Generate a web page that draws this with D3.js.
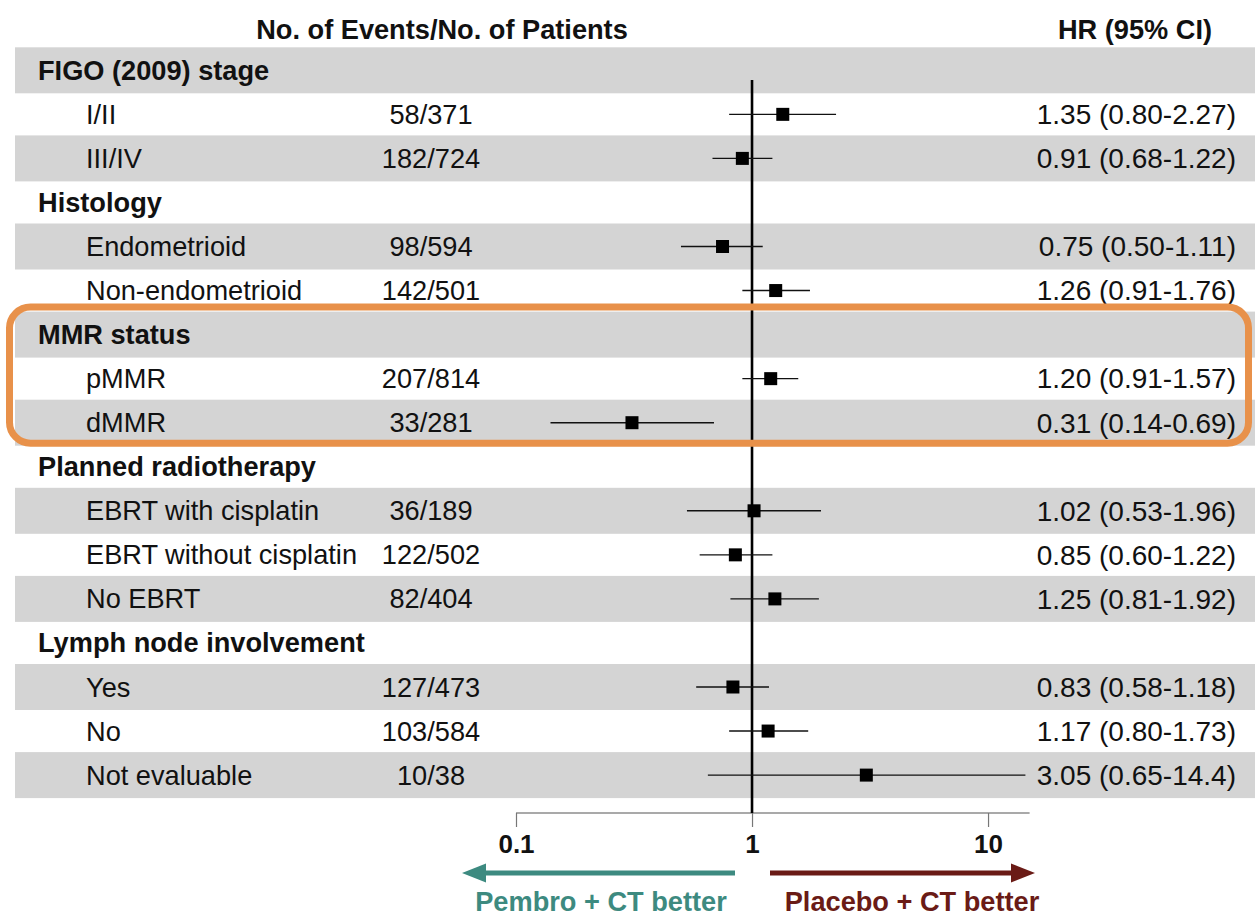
<!DOCTYPE html>
<html>
<head>
<meta charset="utf-8">
<script src="https://cdn.jsdelivr.net/npm/d3@7/dist/d3.min.js"></script>
<style>
  html, body { margin: 0; padding: 0; background: #fff; }
  svg { display: block; font-family: "Liberation Sans", Arial, sans-serif; }
</style>
</head>
<body>
<svg id="chart" width="1255" height="918"></svg>
<script>
// Subgroup rows, top to bottom; header rows carry no estimate.
const rowLabels = [
  "FIGO (2009) stage", "I/II", "III/IV",
  "Histology", "Endometrioid", "Non-endometrioid",
  "MMR status", "pMMR", "dMMR",
  "Planned radiotherapy", "EBRT with cisplatin", "EBRT without cisplatin", "No EBRT",
  "Lymph node involvement", "Yes", "No", "Not evaluable"
];
const isHeader = [1,0,0, 1,0,0, 1,0,0, 1,0,0,0, 1,0,0,0];
const events   = [null,"58/371","182/724", null,"98/594","142/501", null,"207/814","33/281",
                  null,"36/189","122/502","82/404", null,"127/473","103/584","10/38"];
const hr       = [null,1.35,0.91, null,0.75,1.26, null,1.20,0.31, null,1.02,0.85,1.25, null,0.83,1.17,3.05];
const ciLow    = [null,0.80,0.68, null,0.50,0.91, null,0.91,0.14, null,0.53,0.60,0.81, null,0.58,0.80,0.65];
const ciHigh   = [null,2.27,1.22, null,1.11,1.76, null,1.57,0.69, null,1.96,1.22,1.92, null,1.18,1.73,14.4];
const axisTicks = [0.1, 1, 10];
const highlightRows = [6, 8]; // first and last row inside the outlined block

const svg = d3.select("#chart");
const W = 1255;
const rowPitch = 44.05, firstRow = 70.3, bandH = 46;
const y = i => firstRow + i * rowPitch;
const fs = 27.2;

const x = d3.scaleLog().domain([0.1, 15]).range([516, 1029.6]);

const fmt = v => v >= 10 ? v.toFixed(1) : v.toFixed(2);
const ink = "#111";

// alternating row bands
svg.append("g").selectAll("rect")
  .data(rowLabels.map((d, i) => i).filter(i => i % 2 === 0))
  .join("rect")
  .attr("x", 15).attr("width", W - 15)
  .attr("y", i => y(i) - bandH / 2).attr("height", bandH)
  .attr("fill", "#d4d4d4");

// column headers
svg.append("text").attr("x", 442).attr("y", 39).attr("text-anchor", "middle")
  .attr("font-size", fs).attr("font-weight", "bold").attr("fill", ink)
  .text("No. of Events/No. of Patients");
svg.append("text").attr("x", 1135).attr("y", 39).attr("text-anchor", "middle")
  .attr("font-size", fs).attr("font-weight", "bold").attr("fill", ink)
  .text("HR (95% CI)");

// row labels
svg.append("g").selectAll("text")
  .data(rowLabels.map((d, i) => ({ label: d, i })))
  .join("text")
  .attr("x", d => isHeader[d.i] ? 38 : 86)
  .attr("y", d => y(d.i)).attr("dy", "0.35em")
  .attr("font-size", fs)
  .attr("font-weight", d => isHeader[d.i] ? "bold" : "normal")
  .attr("fill", ink)
  .text(d => d.label);

const dataRows = rowLabels.map((d, i) => i).filter(i => !isHeader[i]);

// events / patients
svg.append("g").selectAll("text")
  .data(dataRows).join("text")
  .attr("x", 431).attr("y", i => y(i)).attr("dy", "0.35em")
  .attr("text-anchor", "middle").attr("font-size", fs).attr("fill", ink)
  .text(i => events[i]);

// HR (95% CI) text
svg.append("g").selectAll("text")
  .data(dataRows).join("text")
  .attr("x", 1236).attr("y", i => y(i)).attr("dy", "0.35em")
  .attr("text-anchor", "end").attr("font-size", 28).attr("fill", ink)
  .text(i => `${fmt(hr[i])} (${fmt(ciLow[i])}-${fmt(ciHigh[i])})`);

// axis
const axisY = 813;
const axis = d3.axisBottom(x).tickValues(axisTicks).tickSize(14).tickFormat(d3.format("~g"));
const gAxis = svg.append("g").attr("transform", `translate(0,${axisY})`).call(axis);
gAxis.select(".domain").attr("d", `M${x.range()[0]},0H${x.range()[1]}`).attr("stroke", "#555").attr("stroke-width", 1.2);
gAxis.selectAll(".tick line").attr("stroke", "#777").attr("stroke-width", 1.2);
gAxis.selectAll(".tick text")
  .attr("y", 22).attr("dy", "0.71em")
  .attr("font-size", 26).attr("font-weight", "bold").attr("fill", ink)
  .attr("font-family", "Liberation Sans, Arial, sans-serif");

// reference line at HR = 1
svg.append("line")
  .attr("x1", x(1)).attr("x2", x(1)).attr("y1", 80).attr("y2", axisY)
  .attr("stroke", "#000").attr("stroke-width", 2.6);

// confidence intervals
svg.append("g").selectAll("line")
  .data(dataRows).join("line")
  .attr("x1", i => x(ciLow[i])).attr("x2", i => x(ciHigh[i]))
  .attr("y1", i => y(i)).attr("y2", i => y(i))
  .attr("stroke", "#111").attr("stroke-width", 1.4);

// point estimates
const box = 13;
svg.append("g").selectAll("rect")
  .data(dataRows).join("rect")
  .attr("x", i => x(hr[i]) - box / 2).attr("y", i => y(i) - box / 2)
  .attr("width", box).attr("height", box).attr("fill", "#000");

// outline around the MMR status block
const boxTop = y(highlightRows[0]) - bandH / 2 - 4.5;
const boxBottom = y(highlightRows[1]) + bandH / 2 - 2.5;
svg.append("rect")
  .attr("x", 9.5).attr("y", boxTop)
  .attr("width", 1239).attr("height", boxBottom - boxTop)
  .attr("rx", 21).attr("ry", 21)
  .attr("fill", "none").attr("stroke", "#E8914A").attr("stroke-width", 7);

// direction arrows
const teal = "#3D8A80", maroon = "#6A1B16";
const arrowY = 873;
svg.append("line").attr("x1", 482).attr("x2", 735).attr("y1", arrowY).attr("y2", arrowY)
  .attr("stroke", teal).attr("stroke-width", 5);
svg.append("path").attr("d", `M462,${arrowY} L486,${arrowY - 9.5} L486,${arrowY + 9.5} Z`).attr("fill", teal);
svg.append("line").attr("x1", 770).attr("x2", 1015).attr("y1", arrowY).attr("y2", arrowY)
  .attr("stroke", maroon).attr("stroke-width", 5);
svg.append("path").attr("d", `M1035,${arrowY} L1011,${arrowY - 9.5} L1011,${arrowY + 9.5} Z`).attr("fill", maroon);

svg.append("text").attr("x", 601).attr("y", 911).attr("text-anchor", "middle")
  .attr("font-size", fs).attr("font-weight", "bold").attr("fill", teal)
  .text("Pembro + CT better");
svg.append("text").attr("x", 912).attr("y", 911).attr("text-anchor", "middle")
  .attr("font-size", fs).attr("font-weight", "bold").attr("fill", maroon)
  .text("Placebo + CT better");
</script>
</body>
</html>
